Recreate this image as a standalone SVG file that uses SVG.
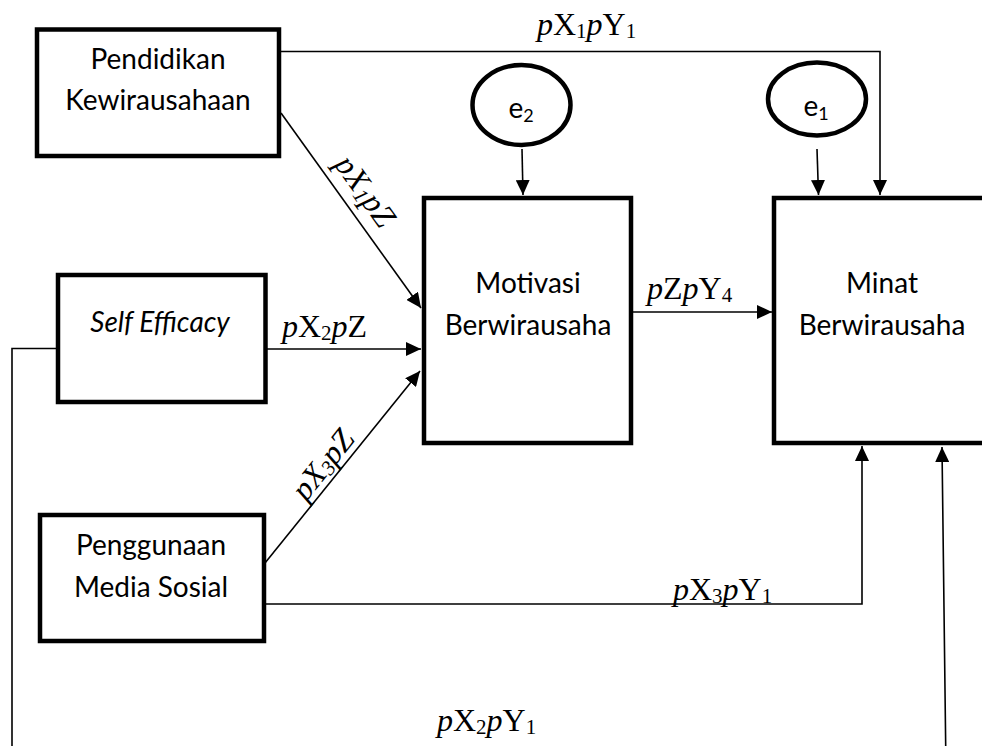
<svg xmlns="http://www.w3.org/2000/svg" width="982" height="746" viewBox="0 0 982 746">
<defs>
<style>
.box{fill:#fff;stroke:#000;stroke-width:4.5}
.ell{fill:#fff;stroke:#000;stroke-width:4.5}
.lbl{font-family:"Lato","Liberation Sans",sans-serif;font-size:28px;fill:#000;text-anchor:middle}
.math{font-family:"Liberation Serif","Times New Roman",serif;font-size:32px;fill:#000}
.it{font-style:italic}
.sub{font-size:21px}
.con{fill:none;stroke:#000;stroke-width:1.6}
</style>
<marker id="arr" markerUnits="userSpaceOnUse" markerWidth="16" markerHeight="14" refX="15" refY="7" orient="auto">
<path d="M0,0 L15,7 L0,14 z" fill="#000"/>
</marker>
</defs>
<rect width="982" height="746" fill="#fff"/>

<g id="connectors">
<path class="con" d="M281,51.5 H880 V195" marker-end="url(#arr)"/>
<path class="con" d="M522,149 L523,195" marker-end="url(#arr)"/>
<path class="con" d="M817,149 L818.5,195" marker-end="url(#arr)"/>
<path class="con" d="M281,113 L421,308" marker-end="url(#arr)"/>
<path class="con" d="M267,349 H421" marker-end="url(#arr)"/>
<path class="con" d="M265,563 L420,371" marker-end="url(#arr)"/>
<path class="con" d="M633,312 H772" marker-end="url(#arr)"/>
<path class="con" d="M264,604 H862 V446" marker-end="url(#arr)"/>
<path class="con" d="M56,348.5 H12 V770 H946 L942,447" marker-end="url(#arr)"/>
</g>

<g id="labels">
<text class="math" x="537" y="35"><tspan class="it">p</tspan>X<tspan class="sub" dy="3">1</tspan><tspan class="it" dy="-3">p</tspan>Y<tspan class="sub" dy="3">1</tspan></text>
<text class="math" x="282" y="337"><tspan class="it">p</tspan>X<tspan class="sub" dy="3">2</tspan><tspan class="it" dy="-3">p</tspan>Z</text>
<text class="math" x="647" y="299"><tspan class="it">p</tspan>Z<tspan class="it">p</tspan>Y<tspan class="sub" dy="3">4</tspan></text>
<text class="math" x="673" y="600"><tspan class="it">p</tspan>X<tspan class="sub" dy="3">3</tspan><tspan class="it" dy="-3">p</tspan>Y<tspan class="sub" dy="3">1</tspan></text>
<text class="math" x="437" y="731"><tspan class="it">p</tspan>X<tspan class="sub" dy="3">2</tspan><tspan class="it" dy="-3">p</tspan>Y<tspan class="sub" dy="3">1</tspan></text>
<text class="math it" transform="translate(357,197) rotate(54.5)" text-anchor="middle" font-size="30">pX<tspan class="sub" dy="3">1</tspan><tspan dy="-3">pZ</tspan></text>
<text class="math it" transform="translate(331,471) rotate(-51.3)" text-anchor="middle" font-size="30">pX<tspan class="sub" dy="3">3</tspan><tspan dy="-3">pZ</tspan></text>
</g>

<g id="pendidikan">
<rect class="box" x="37" y="29.5" width="242" height="126.5"/>
<text class="lbl" x="158" y="69">Pendidikan</text>
<text class="lbl" x="158" y="110">Kewirausahaan</text>
</g>

<g id="self-efficacy">
<rect class="box" x="58" y="275" width="207.5" height="127"/>
<text class="lbl" x="160" y="332" font-style="italic">Self Efficacy</text>
</g>

<g id="penggunaan">
<rect class="box" x="40" y="515" width="224" height="126"/>
<text class="lbl" x="151" y="555">Penggunaan</text>
<text class="lbl" x="151" y="597">Media Sosial</text>
</g>

<g id="motivasi">
<rect class="box" x="424" y="198" width="207" height="245"/>
<text class="lbl" x="528" y="293">Motivasi</text>
<text class="lbl" x="528" y="335">Berwirausaha</text>
</g>

<g id="minat">
<rect class="box" x="774" y="198" width="300" height="245"/>
<text class="lbl" x="882" y="293">Minat</text>
<text class="lbl" x="882" y="335">Berwirausaha</text>
</g>

<g id="e2">
<ellipse class="ell" cx="521.5" cy="105" rx="49" ry="40"/>
<text class="lbl" x="521" y="118">e<tspan font-size="18" dy="4">2</tspan></text>
</g>

<g id="e1">
<ellipse class="ell" cx="817" cy="99" rx="49" ry="36.5"/>
<text class="lbl" x="816" y="116">e<tspan font-size="18" dy="4">1</tspan></text>
</g>
</svg>
